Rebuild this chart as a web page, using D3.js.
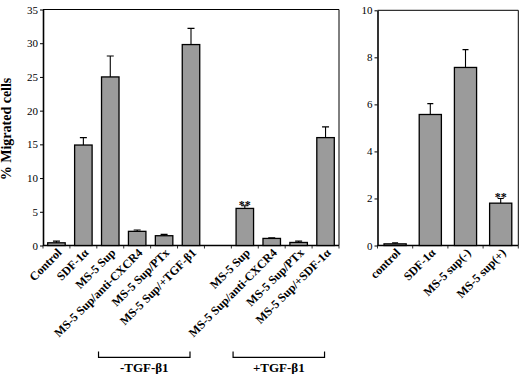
<!DOCTYPE html>
<html><head><meta charset="utf-8">
<script src="https://cdn.jsdelivr.net/npm/d3@7"></script>
<style>body{margin:0;background:#fff}svg{display:block}</style>
</head><body>
<svg id="c" width="520" height="374"></svg>
<script>
// ---- data ----
const leftCategories = ["Control","SDF-1α","MS-5 Sup","MS-5 Sup/anti-CXCR4","MS-5 Sup/PTx","MS-5 Sup/+TGF-β1","","MS-5 Sup","MS-5 Sup/anti-CXCR4","MS-5 Sup/PTx","MS-5 Sup/+SDF-1α"];
const leftValues = [0.4, 14.9, 25.0, 2.1, 1.45, 29.8, null, 5.5, 1.05, 0.45, 16.0];
const leftErrors = [0.25, 1.1, 3.1, 0.2, 0.2, 2.4, null, 0.4, 0.1, 0.2, 1.6];
const leftSignif = ["", "", "", "", "", "", "", "**", "", "", ""];
const leftTicks = [0, 5, 10, 15, 20, 25, 30, 35];
const groupLabels = ["-TGF-β1", "+TGF-β1"];
const groupFirst = [2, 7];
const groupLast = [5, 10];

const rightCategories = ["control","SDF-1α","MS-5 sup(-)","MS-5 sup(+)"];
const rightValues = [0.07, 5.57, 7.57, 1.80];
const rightErrors = [0.04, 0.46, 0.76, 0.2];
const rightSignif = ["", "", "", "**"];
const rightTicks = [0, 2, 4, 6, 8, 10];
const yTitle = "% Migrated cells";

// ---- drawing ----
const svg = d3.select("#c");
const serif = "'Liberation Serif','Times New Roman',serif";
const FILL = "#9b9b9b";

function panel(opt) {
  const g = svg.append("g");
  const x = d3.scaleBand().domain(d3.range(opt.cats.length))
    .range([opt.x0, opt.x1]).paddingInner(opt.pad).paddingOuter(opt.pad / 2);
  const y = d3.scaleLinear().domain([0, opt.max]).range([opt.yb, opt.yt]);

  // frame top/right
  g.append("path").attr("d", `M${opt.x0},${opt.yt}H${opt.x1}V${opt.yb}`)
    .attr("fill", "none").attr("stroke", "#000").attr("stroke-width", 1);

  // y axis
  const ya = g.append("g").attr("transform", `translate(${opt.x0},0)`)
    .call(d3.axisLeft(y).tickValues(opt.ticks).tickSize(3).tickPadding(2).tickSizeOuter(0));
  ya.select(".domain").attr("stroke-width", 1.6);
  ya.selectAll("text").attr("font-family", serif).attr("font-size", 11).attr("fill", "#000");

  // x axis
  g.append("line").attr("x1", opt.x0).attr("x2", opt.x1).attr("y1", opt.yb).attr("y2", opt.yb)
    .attr("stroke", "#000").attr("stroke-width", 1.4);
  const bounds = d3.range(opt.cats.length + 1).map(i => opt.x0 + i * x.step());
  g.selectAll(".bt").data(bounds).join("line")
    .attr("x1", d => d).attr("x2", d => d).attr("y1", opt.yb).attr("y2", opt.yb + 3)
    .attr("stroke", "#000").attr("stroke-width", 0.8);

  const idx = d3.range(opt.cats.length).filter(i => opt.vals[i] != null);
  // bars
  g.selectAll(".bar").data(idx).join("rect")
    .attr("x", i => x(i)).attr("width", x.bandwidth())
    .attr("y", i => y(opt.vals[i])).attr("height", i => y(0) - y(opt.vals[i]))
    .attr("fill", FILL).attr("stroke", "#000").attr("stroke-width", 1.3);
  // error bars
  const cw = opt.cap;
  g.selectAll(".err").data(idx).join("path")
    .attr("d", i => {
      const cx = x(i) + x.bandwidth() / 2, y0 = y(opt.vals[i]), y1 = y(opt.vals[i] + opt.errs[i]);
      return `M${cx},${y0}V${y1}M${cx - cw / 2},${y1}H${cx + cw / 2}`;
    }).attr("fill", "none").attr("stroke", "#000").attr("stroke-width", 1.1);
  // significance
  g.selectAll(".sig").data(idx.filter(i => opt.sig[i])).join("text")
    .attr("x", i => x(i) + x.bandwidth() / 2)
    .attr("y", i => y(opt.vals[i] + opt.errs[i]) + 3)
    .attr("text-anchor", "middle").attr("font-family", serif).attr("font-weight", "bold")
    .attr("font-size", 12).attr("fill", "#000").text(i => opt.sig[i]);
  // category labels
  g.selectAll(".cl").data(idx).join("text")
    .attr("transform", i => `translate(${x(i) + x.bandwidth() / 2 + opt.lx},${opt.yb + opt.ly}) rotate(-45)`)
    .attr("text-anchor", "end").attr("font-family", serif).attr("font-weight", "bold")
    .attr("font-size", opt.fs).attr("fill", "#000").text(i => opt.cats[i]);
  return {x, y};
}

const L = panel({cats: leftCategories, vals: leftValues, errs: leftErrors, sig: leftSignif,
  ticks: leftTicks, max: 35, x0: 43, x1: 339, yt: 9.5, yb: 245.5, pad: 0.35, cap: 7,
  lx: 6, ly: 8, fs: 12});
const R = panel({cats: rightCategories, vals: rightValues, errs: rightErrors, sig: rightSignif,
  ticks: rightTicks, max: 10, x0: 377.5, x1: 518.3, yt: 10.3, yb: 245.5, pad: 0.37, cap: 6,
  lx: 6, ly: 8, fs: 12});

// y title
svg.append("text").attr("transform", "translate(11,129) rotate(-90)")
  .attr("text-anchor", "middle").attr("font-family", serif).attr("font-weight", "bold")
  .attr("font-size", 14).attr("fill", "#000").text(yTitle);

// group brackets
groupLabels.forEach((lab, k) => {
  const bw = L.x.bandwidth();
  const a = L.x(groupFirst[k]) - 3, b = L.x(groupLast[k]) + bw / 2 - 1;
  svg.append("path").attr("d", `M${a},351.5V357.3H${b}V351.5`)
    .attr("fill", "none").attr("stroke", "#000").attr("stroke-width", 1.2);
  svg.append("text").attr("x", (a + b) / 2).attr("y", 371.5).attr("text-anchor", "middle")
    .attr("font-family", serif).attr("font-weight", "bold").attr("font-size", 13)
    .attr("fill", "#000").text(lab);
});
</script>
</body></html>
